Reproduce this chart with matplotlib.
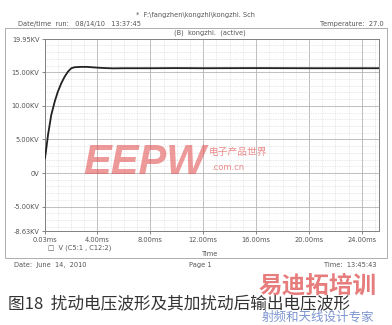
import numpy as np
import matplotlib.pyplot as plt
from matplotlib.patches import Rectangle

# waveform (time in ms, voltage in KV)
t_ms = [0.03, 0.1, 0.26, 0.5, 0.76, 1.0, 1.26, 1.52, 1.77, 2.02, 2.28, 2.78,
        3.2, 3.53, 4.04, 4.6, 5.2, 6.0, 8.0, 10.0, 12.0, 16.0, 20.0, 25.3]
v_kv = [2.2, 3.2, 5.7, 8.6, 10.6, 12.1, 13.35, 14.35, 15.1, 15.6, 15.75, 15.8,
        15.8, 15.75, 15.68, 15.62, 15.58, 15.6, 15.6, 15.62, 15.6, 15.62, 15.6, 15.6]

xticks = [0.03, 4, 8, 12, 16, 20, 24]
xlabels = ["0.03ms", "4.00ms", "8.00ms", "12.00ms", "16.00ms", "20.00ms", "24.00ms"]
yticks = [19.95, 15, 10, 5, 0, -5, -8.63]
ylabels = ["19.95KV", "15.00KV", "10.00KV", "5.00KV", "0V", "-5.00KV", "-8.63KV"]

W, H = 392, 325
fig = plt.figure(figsize=(W / 100, H / 100), dpi=100)
fig.patch.set_facecolor("white")

def px(x, y):
    return x / W, 1 - y / H

ax = fig.add_axes([45 / W, 1 - 231 / H, (379 - 45) / W, (231 - 39) / H])
ax.set_xlim(0.03, 25.3)
ax.set_ylim(-8.63, 19.95)

# grid: dotted every 1ms / 1KV, solid at major steps
for x in np.arange(1, 25.3, 1):
    major = (x % 4 == 0)
    ax.axvline(x, color="#b4b4b4" if major else "#d2d2d2",
               lw=0.6 if major else 0.5, ls="-" if major else (0, (1, 1.5)), zorder=1)
for y in np.arange(-8, 20, 1):
    major = (y % 5 == 0)
    ax.axhline(y, color="#b4b4b4" if major else "#d2d2d2",
               lw=0.6 if major else 0.5, ls="-" if major else (0, (1, 1.5)), zorder=1)

ax.plot(t_ms, v_kv, color="#222222", lw=1.3, zorder=3)

ax.set_xticks(xticks)
ax.set_xticklabels(xlabels)
ax.set_yticks(yticks)
ax.set_yticklabels(ylabels)
ax.tick_params(labelsize=4.8, colors="#555555", length=2, width=0.5, pad=2)
for s in ax.spines.values():
    s.set_color("#808080")
    s.set_linewidth(0.7)

# outer page frame
fig.patches.append(Rectangle(px(5, 258), 382 / W, (258 - 28) / H, transform=fig.transFigure,
                             fill=False, edgecolor="#a0a0a0", lw=0.6))

small = dict(fontsize=4.8, color="#555555")
fig.text(*px(196, 15), "*  F:\\fangzhen\\kongzhi\\kongzhi. Sch", ha="center", va="center", **small)
fig.text(*px(18, 24), "Date/time  run:   08/14/10   13:37:45", ha="left", va="center", **small)
fig.text(*px(384, 24), "Temperature:  27.0", ha="right", va="center", **small)
fig.text(*px(210, 33), "(B)  kongzhi.  (active)", ha="center", va="center", **small)
fig.text(*px(48, 248), "\u25a1  V (C5:1 , C12:2)", ha="left", va="center", **small)
fig.text(*px(210, 254), "Time", ha="center", va="center", **small)
fig.text(*px(14, 265), "Date:  June  14,  2010", ha="left", va="center", **small)
fig.text(*px(200, 265), "Page 1", ha="center", va="center", **small)
fig.text(*px(377, 265), "Time:  13:45:43", ha="right", va="center", **small)

# watermarks
fig.text(*px(145, 163), "EEPW", ha="center", va="center", fontsize=30, fontweight="bold",
         fontstyle="italic", color="#e04848", alpha=0.55, family="Liberation Sans")
fig.text(*px(238, 152), "电子产品世界", ha="center", va="center", fontsize=7,
         color="#e04040", alpha=0.6, family=["Noto Sans CJK SC", "DejaVu Sans"])
fig.text(*px(228, 168), ".com.cn", ha="center", va="center", fontsize=6,
         color="#e04040", alpha=0.6)

fig.text(*px(8, 304), "图18  扰动电压波形及其加扰动后输出电压波形", ha="left", va="center",
         fontsize=12, color="#333333", family=["Noto Sans CJK SC", "DejaVu Sans"])

fig.text(*px(318, 286), "易迪拓培训", ha="center", va="center", fontsize=17, fontweight="bold",
         color="#e05050", alpha=0.75, family=["Noto Sans CJK SC", "DejaVu Sans"])
fig.text(*px(318, 317), "射频和天线设计专家", ha="center", va="center", fontsize=9,
         color="#5070c0", alpha=0.75, family=["Noto Sans CJK SC", "DejaVu Sans"])

fig.savefig("out.png", dpi=100, facecolor="white")
